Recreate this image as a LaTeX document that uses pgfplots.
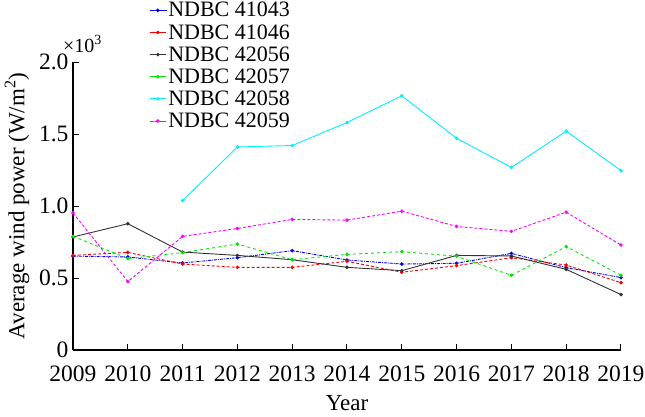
\documentclass[border=0pt]{standalone}
\usepackage{fontspec}
\setmainfont{Liberation Serif}
\usepackage{pgfplots}
\pgfplotsset{compat=1.18}
\definecolor{cblue}{RGB}{0,0,255}
\definecolor{cred}{RGB}{255,0,0}
\definecolor{cgreen}{RGB}{0,235,0}
\definecolor{ccyan}{RGB}{0,240,255}
\definecolor{cmag}{RGB}{255,0,255}

\begin{document}
\begin{tikzpicture}
\useasboundingbox (-73pt,-66pt) rectangle (572pt,350pt);
\begin{axis}[
  scale only axis,
  width=548pt, height=288pt,
  at={(0,0)}, anchor=south west,
  xmin=2009, xmax=2019,
  ymin=0, ymax=2000,
  axis lines=left,
  axis line style={line width=1.2pt, -},
  tick style={black, line width=1pt},
  major tick length=6pt,
  tick align=inside,
  xtick={2009,...,2019},
  ytick={0,500,1000,1500,2000},
  yticklabels={0,0.5,1.0,1.5,2.0},
  scaled ticks=false,
  /pgf/number format/1000 sep={},
  /pgf/number format/assume math mode=true,
  ticklabel style={font=\fontsize{23.5}{25}\selectfont},
  xticklabel style={yshift=-12pt},
  yticklabel style={xshift=-1pt},
  label style={font=\fontsize{23}{25}\selectfont},
  xlabel={Year},
  xlabel style={at={(axis description cs:0.5,0)}, anchor=base, inner sep=0pt, yshift=-60pt},
  ylabel={Average wind power (W/m\textsuperscript{2})},
  ylabel style={at={(axis description cs:-0.102,0.5)}, anchor=center},
  legend style={at={(axis description cs:0.139,1.215)}, anchor=north west,
    draw=none, fill=none, font=\fontsize{22}{22}\selectfont,
    row sep=2pt, inner sep=0pt},
  legend cell align=left,
  legend image code/.code={
    \draw[#1] (0pt,0pt) -- (16pt,0pt);
    \draw[#1, solid] plot[mark repeat=2, mark phase=2] coordinates {(0pt,0pt)(8pt,0pt)(16pt,0pt)};
  },
  every axis plot/.append style={line width=0.9pt, mark=*, mark size=1.3pt,
    mark options={solid}},
  clip=false,
]
% NDBC 41043
\addplot[color=cblue, densely dashdotted] coordinates {
  (2009,652) (2010,646) (2011,604) (2012,641) (2013,690) (2014,625)
  (2015,597) (2016,602) (2017,671) (2018,572) (2019,503)};
% NDBC 41046
\addplot[color=cred, densely dashed] coordinates {
  (2009,657) (2010,678) (2011,597) (2012,574) (2013,574) (2014,616)
  (2015,540) (2016,586) (2017,641) (2018,590) (2019,468)};
% NDBC 42056
\addplot[color=black!80] coordinates {
  (2009,785) (2010,877) (2011,680) (2012,657) (2013,627) (2014,574)
  (2015,551) (2016,657) (2017,653) (2018,560) (2019,385)};
% NDBC 42057
\addplot[color=cgreen, dashed] coordinates {
  (2009,790) (2010,635) (2011,676) (2012,736) (2013,627) (2014,664)
  (2015,683) (2016,651) (2017,519) (2018,718) (2019,519)};
% NDBC 42058
\addplot[color=ccyan] coordinates {
  (2011,1038) (2012,1410) (2013,1420) (2014,1580) (2015,1765)
  (2016,1470) (2017,1268) (2018,1520) (2019,1246)};
% NDBC 42059
\addplot[color=cmag, densely dashed] coordinates {
  (2009,952) (2010,475) (2011,789) (2012,844) (2013,907) (2014,902)
  (2015,964) (2016,858) (2017,824) (2018,957) (2019,729)};
\legend{NDBC 41043, NDBC 41046, NDBC 42056, NDBC 42057, NDBC 42058, NDBC 42059}
\node[anchor=base west, font=\fontsize{20}{22}\selectfont, inner sep=0pt]
  at (axis description cs:0,1) [xshift=-10pt, yshift=10pt] {×10\textsuperscript{3}};
\end{axis}
\end{tikzpicture}
\end{document}
